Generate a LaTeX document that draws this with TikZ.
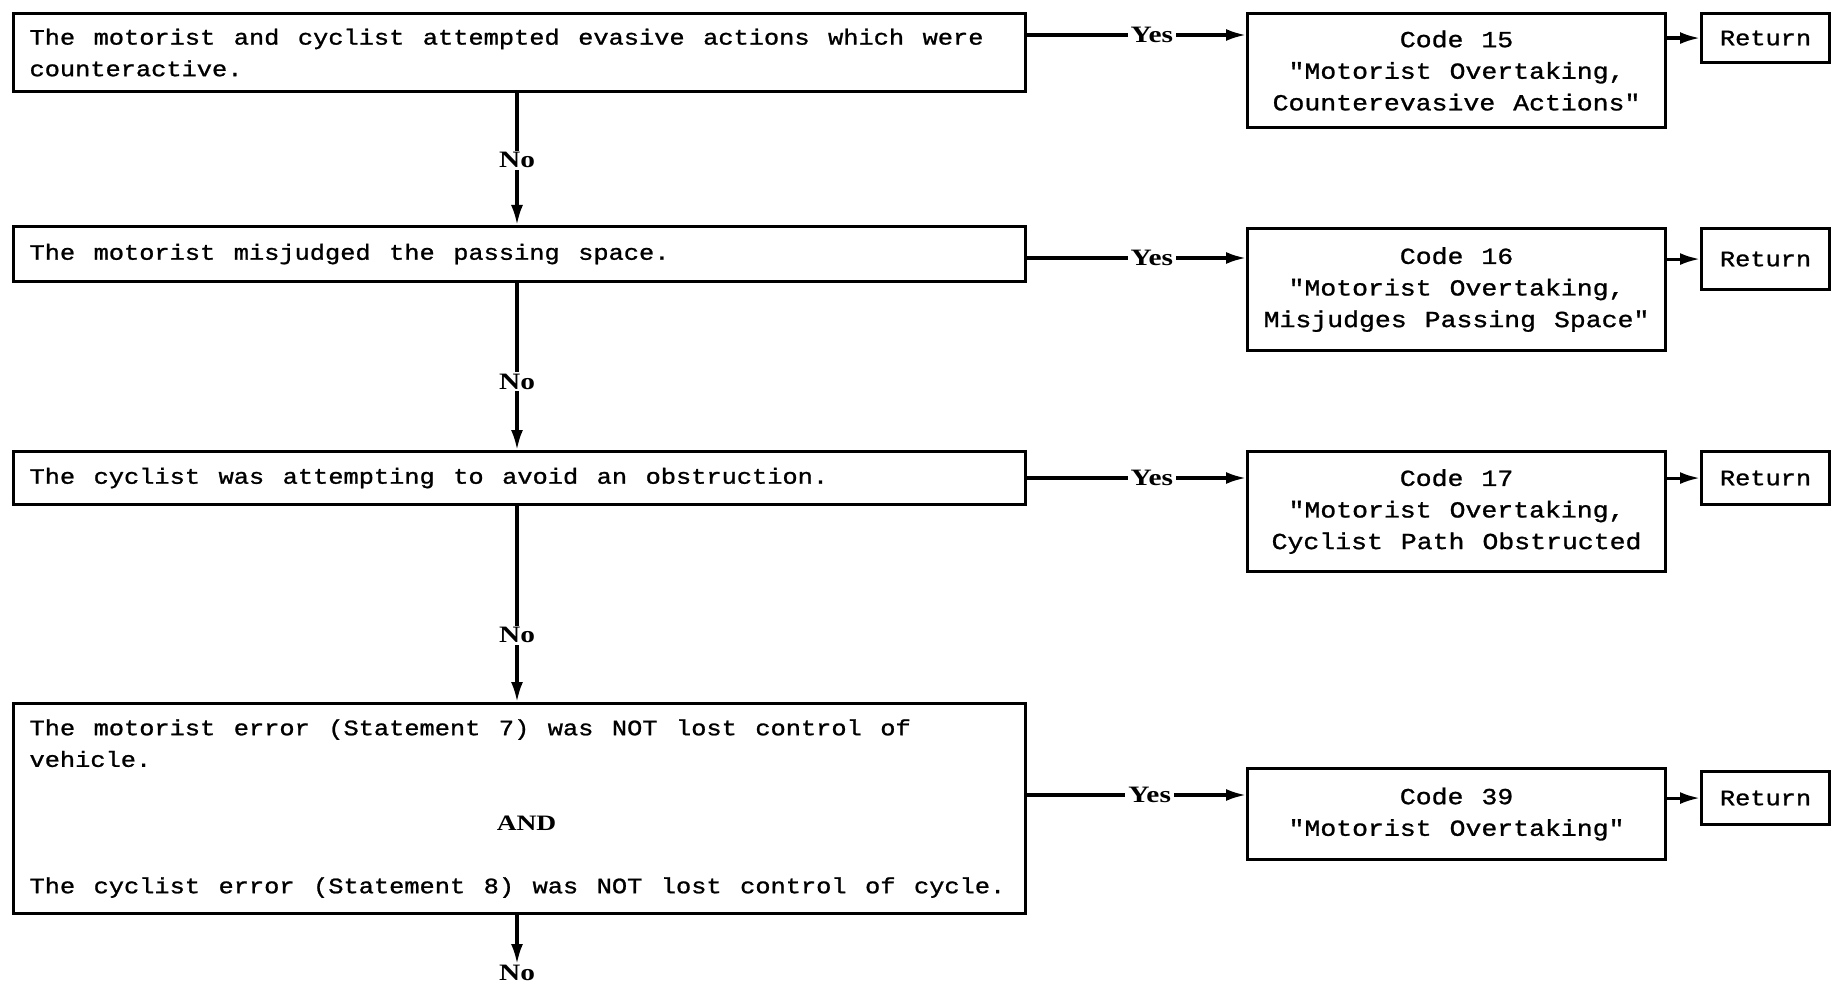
\documentclass[tikz,border=0pt]{standalone}
\usepackage{fontspec}
\usetikzlibrary{arrows.meta}
% typewriter face for the boxed statements, serif face for the branch labels
\newfontfamily\typefont[FakeStretch=1.152,FakeBold=1.1]{Liberation Mono}
\newfontfamily\labelfont[FakeStretch=1.25]{Liberation Serif}
% fixed word spaces, as on the typed sheet
\newcommand\typeset[2]{\typefont\fontsize{#1}{31.6}\selectfont
  \spaceskip=#2 plus 0pt minus 0pt\relax
  \xspaceskip=#2 plus 0pt minus 0pt\relax}
\newcommand\andword{{\labelfont\bfseries AND}}

\tikzset{
  x=1pt, y=-1pt,
  frame/.style={draw, line width=3.1pt, inner ysep=0pt},
  stmt/.style={frame, anchor=north west, align=flush left, inner xsep=16pt,
    text width=980pt, font=\typeset{22}{18.5pt}},
  codebox/.style={frame, anchor=north west, align=flush center, inner xsep=4pt,
    text width=410pt, font=\typeset{23}{18pt}},
  retbox/.style={frame, anchor=north west, align=flush center, inner xsep=4pt,
    text width=120pt, font=\typeset{22}{18pt}},
  link/.style={line width=3.1pt, -{Latex[length=20pt,width=12pt]}},
  lbl/.style={font=\labelfont\bfseries\fontsize{23.5}{25}\selectfont,
    fill=white, inner xsep=3pt, inner ysep=2pt}
}

\begin{document}
\begin{tikzpicture}
\useasboundingbox (0,0) rectangle (1831,995);

% decision statements
\node[stmt, minimum height=78pt] (q1) at (12,12)
  {The motorist and cyclist attempted evasive actions which were\\counteractive.};
\node[stmt, minimum height=55pt] (q2) at (12,225)
  {The motorist misjudged the passing space.};
\node[stmt, minimum height=53pt] (q3) at (12,450)
  {The cyclist was attempting to avoid an obstruction.};
\node[stmt, minimum height=210pt] (q4) at (12,702)
  {The motorist error (Statement 7) was NOT lost control of\\vehicle.\\\mbox{}\\
   \makebox[\linewidth]{\hspace*{14pt}\andword}\\\mbox{}\\
   The cyclist error (Statement 8) was NOT lost control of cycle.};

% outcome codes
\node[codebox, minimum height=114pt] (c1) at (1246,12)
  {Code 15\\"Motorist Overtaking,\\Counterevasive Actions"};
\node[codebox, minimum height=122pt] (c2) at (1246,227)
  {Code 16\\"Motorist Overtaking,\\Misjudges Passing Space"};
\node[codebox, minimum height=120pt] (c3) at (1246,450)
  {Code 17\\"Motorist Overtaking,\\Cyclist Path Obstructed};
\node[codebox, minimum height=91pt] (c4) at (1246,767)
  {Code 39\\"Motorist Overtaking"};

% return boxes
\node[retbox, minimum height=49pt] (r1) at (1700,12) {Return};
\node[retbox, minimum height=61pt] (r2) at (1700,227) {Return};
\node[retbox, minimum height=53pt] (r3) at (1700,450) {Return};
\node[retbox, minimum height=53pt] (r4) at (1700,770) {Return};

% row heights of the Yes branches and the column of the No branches
\coordinate (y1) at (0,35);
\coordinate (y2) at (0,258);
\coordinate (y3) at (0,478);
\coordinate (y4) at (0,795);
\coordinate (vx) at (517,0);
\coordinate (end) at (517,964);

% Yes branches
\draw[link] (q1.east |- y1) -- node[lbl, pos=0.57] {Yes} (c1.west |- y1);
\draw[link] (q2.east |- y2) -- node[lbl, pos=0.57] {Yes} (c2.west |- y2);
\draw[link] (q3.east |- y3) -- node[lbl, pos=0.57] {Yes} (c3.west |- y3);
\draw[link] (q4.east |- y4) -- node[lbl, pos=0.56] {Yes} (c4.west |- y4);

% codes to return
\draw[link] (c1.east |- r1.west) -- (r1.west);
\draw[link] (c2.east |- r2.west) -- (r2.west);
\draw[link] (c3.east |- r3.west) -- (r3.west);
\draw[link] (c4.east |- r4.west) -- (r4.west);

% No branches
\draw[link] (q1.south -| vx) -- node[lbl, pos=0.51] {No} (q2.north -| vx);
\draw[link] (q2.south -| vx) -- node[lbl, pos=0.59] {No} (q3.north -| vx);
\draw[link] (q3.south -| vx) -- node[lbl, pos=0.66] {No} (q4.north -| vx);
\draw[link] (q4.south -| vx) -- (end);
\node[lbl, anchor=north, inner ysep=1pt] (nolast) at (end) {No};
\end{tikzpicture}
\end{document}
